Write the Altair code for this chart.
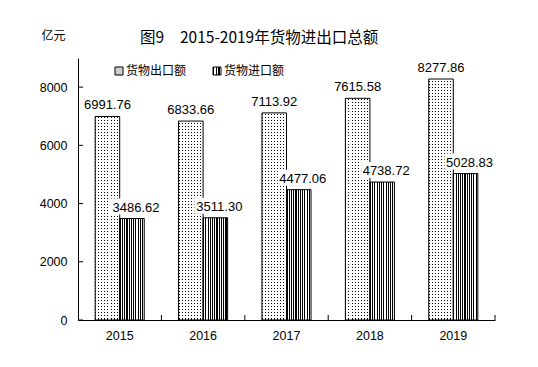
import altair as alt
import pandas as pd

# ---- data ----
years = ["2015", "2016", "2017", "2018", "2019"]
exports = [6991.76, 6833.66, 7113.92, 7615.58, 8277.86]
imports = [3486.62, 3511.30, 4477.06, 4738.72, 5028.83]
series = ["货物出口额", "货物进口额"]
yticks = [0, 2000, 4000, 6000, 8000]
title_prefix = "图9"
title_main = "2015-2019年货物进出口总额"
unit_label = "亿元"

df = pd.DataFrame({
    "year": years * 2,
    "series": [series[0]] * len(years) + [series[1]] * len(years),
    "value": exports + imports,
})

NUM_FONT = "Liberation Sans"
CJK_FONT = "Noto Sans CJK SC"
W, H = 417, 262


def stripes(n, frac, dark, light, vertical=False):
    stops = []
    for i in range(n):
        a = i / n
        b = (i + frac) / n
        c = (i + 1) / n
        stops += [
            alt.GradientStop(offset=a, color=dark),
            alt.GradientStop(offset=b, color=dark),
            alt.GradientStop(offset=b, color=light),
            alt.GradientStop(offset=c, color=light),
        ]
    if vertical:
        return alt.LinearGradient(gradient="linear", stops=stops, x1=0, x2=0, y1=0, y2=1)
    return alt.LinearGradient(gradient="linear", stops=stops, x1=0, x2=1, y1=0, y2=0)


dot_cols = stripes(8, 0.34, "#000000", "#ffffff")
dot_mask = stripes(87, 0.66, "#ffffff", "rgba(255,255,255,0)", vertical=True)
import_fill = stripes(11, 0.5, "#000000", "#ffffff")
legend_import = stripes(3, 0.5, "#000000", "#ffffff")

xaxis = alt.Axis(title=None, labelAngle=0, ticks=False, tickSize=0, domainColor="black",
                 domainWidth=1, labelFont=NUM_FONT, labelFontSize=12.5, labelColor="black",
                 labelPadding=9, zindex=1, grid=False)
yaxis = alt.Axis(title=None, values=yticks, format="d", ticks=False, tickSize=0,
                 domainColor="black", domainWidth=1, labelFont=NUM_FONT, labelFontSize=12.5,
                 labelColor="black", labelPadding=11, zindex=1, grid=False)
xscale = alt.Scale(paddingInner=0, paddingOuter=0)
yscale = alt.Scale(domain=[0, 9000], nice=False, zero=True)

xenc = alt.X("year:O", scale=xscale, axis=xaxis)
xoff = alt.XOffset("series:N", scale=alt.Scale(domain=series, paddingInner=0, paddingOuter=0.7))
yenc = alt.Y("value:Q", scale=yscale, axis=yaxis)

base = alt.Chart(df).encode(x=xenc, xOffset=xoff)
exp = base.transform_filter(alt.datum.series == series[0])
imp = base.transform_filter(alt.datum.series == series[1])

exp_fill = exp.mark_bar(fill=dot_cols).encode(y=yenc)
exp_mask = exp.mark_bar(fill=dot_mask).encode(y=alt.value(0), y2=alt.value(H - 1))
exp_edge = exp.mark_bar(fill="white", fillOpacity=0, stroke="black", strokeWidth=1).encode(y=yenc)
imp_bar = imp.mark_bar(fill=import_fill, stroke="black", strokeWidth=1).encode(y=yenc)

box_path = "M-0.84,-0.8L1.16,-0.8L1.16,-0.16L-0.84,-0.16Z"
imp_bg = imp.mark_point(shape=box_path, filled=True, fill="white", size=2500, opacity=1,
                        strokeWidth=0).encode(y=yenc)

exp_lbl = exp.mark_text(baseline="alphabetic", dy=-7, font=NUM_FONT, fontSize=13,
                        color="black").encode(y=yenc, text=alt.Text("value:Q", format=".2f"))
imp_lbl = imp.mark_text(baseline="alphabetic", dy=-7, dx=4, font=NUM_FONT, fontSize=13,
                        color="black").encode(y=yenc, text=alt.Text("value:Q", format=".2f"))

xtick_rules = alt.Chart(pd.DataFrame({"year": years})).mark_rule(color="black", strokeWidth=1).encode(
    x=alt.X("year:O", bandPosition=1, scale=xscale, axis=xaxis),
    y=alt.value(H), y2=alt.value(H - 5))
ytick_rules = alt.Chart(pd.DataFrame({"value": yticks})).mark_rule(color="black", strokeWidth=1).encode(
    y=yenc, x=alt.value(0), x2=alt.value(5))

one = pd.DataFrame({"k": [0]})
t1 = alt.Chart(one).mark_text(text=title_prefix, align="left", baseline="middle", font=CJK_FONT,
                              fontSize=15.5, fontWeight="normal", color="black").encode(
    x=alt.value(62), y=alt.value(-20))
t2 = alt.Chart(one).mark_text(text=title_main, align="left", baseline="middle", font=CJK_FONT,
                              fontSize=15.5, fontWeight="normal", color="black").encode(
    x=alt.value(102), y=alt.value(-20))
unit = alt.Chart(one).mark_text(text=unit_label, align="center", baseline="middle", font=CJK_FONT,
                                fontSize=12, color="black").encode(
    x=alt.value(-24.5), y=alt.value(-22))

lg1 = alt.Chart(one).mark_point(shape="square", size=64, filled=True, fill="#cfcfcf", stroke="black",
                                strokeWidth=1, opacity=1).encode(x=alt.value(41), y=alt.value(13))
lg2 = alt.Chart(one).mark_point(shape="square", size=64, filled=True, fill=legend_import, stroke="black",
                                strokeWidth=1, opacity=1).encode(x=alt.value(139), y=alt.value(13))
lt1 = alt.Chart(one).mark_text(text=series[0], align="left", baseline="middle", font=CJK_FONT,
                               fontSize=12, color="black").encode(x=alt.value(48), y=alt.value(13))
lt2 = alt.Chart(one).mark_text(text=series[1], align="left", baseline="middle", font=CJK_FONT,
                               fontSize=12, color="black").encode(x=alt.value(146), y=alt.value(13))

chart = alt.layer(
    exp_fill, exp_mask, exp_edge, imp_bar, imp_bg, exp_lbl, imp_lbl,
    xtick_rules, ytick_rules, t1, t2, unit, lg1, lg2, lt1, lt2,
).properties(
    width=W, height=H,
    padding={"left": 70, "top": 50, "right": 35, "bottom": 39},
    autosize="none",
    background="white",
).configure_view(stroke=None)

chart.save("out.html", embed_options={"renderer": "svg", "actions": False})
